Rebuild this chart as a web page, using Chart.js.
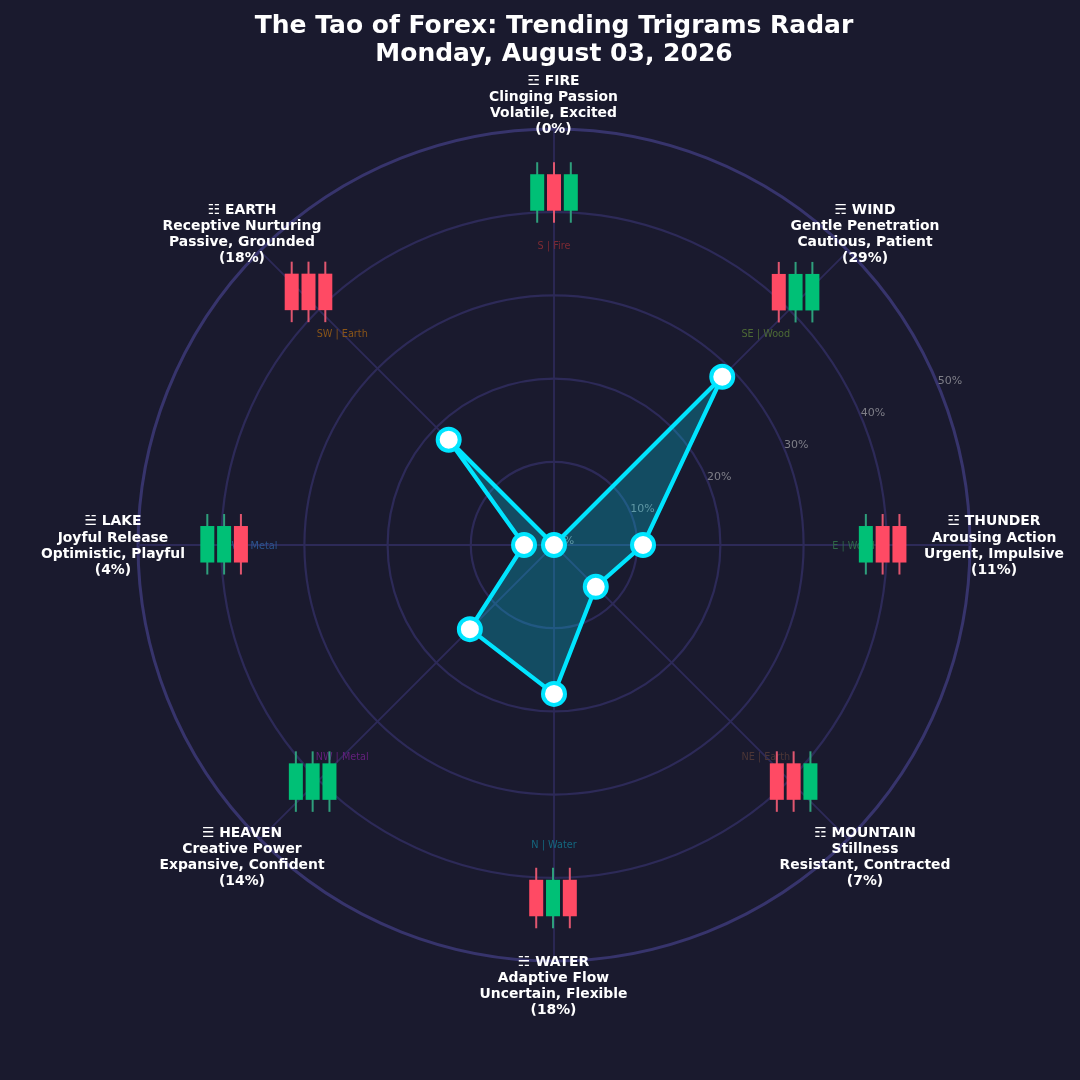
<!DOCTYPE html>
<html>
<head>
<meta charset="utf-8">
<style>
html,body{margin:0;padding:0;background:#1a1a2e;}
canvas{display:block;}
</style>
<script src="https://cdn.jsdelivr.net/npm/chart.js@4"></script>
</head>
<body>
<canvas id="c" width="1080" height="1080"></canvas>
<script>
const titleLines = ['The Tao of Forex: Trending Trigrams Radar', 'Monday, August 03, 2026'];
const trigrams = ['☲ FIRE', '☴ WIND', '☳ THUNDER', '☶ MOUNTAIN', '☵ WATER', '☰ HEAVEN', '☱ LAKE', '☷ EARTH'];
const qualities = ['Clinging Passion', 'Gentle Penetration', 'Arousing Action', 'Stillness', 'Adaptive Flow', 'Creative Power', 'Joyful Release', 'Receptive Nurturing'];
const moods = ['Volatile, Excited', 'Cautious, Patient', 'Urgent, Impulsive', 'Resistant, Contracted', 'Uncertain, Flexible', 'Expansive, Confident', 'Optimistic, Playful', 'Passive, Grounded'];
const percentLabels = ['0%', '29%', '11%', '7%', '18%', '14%', '4%', '18%'];
const values = [0, 28.6, 10.7, 7.1, 17.9, 14.3, 3.6, 17.9];
const tickValues = [0, 10, 20, 30, 40, 50];
const elements = ['S | Fire', 'SE | Wood', 'E | Wood', 'NE | Earth', 'N | Water', 'NW | Metal', 'W | Metal', 'SW | Earth'];
const candleTrends = [
  ['up', 'down', 'up'],
  ['down', 'up', 'up'],
  ['up', 'down', 'down'],
  ['down', 'down', 'up'],
  ['down', 'up', 'down'],
  ['up', 'up', 'up'],
  ['up', 'up', 'down'],
  ['down', 'down', 'down']
];

/* Layout, in scale units and degrees around each spoke */
const candleRing = [42.4, 42.05, 39.5, 40.45, 42.4, 40.6, 39.65, 42.4];
const candleTurn = [0, -1.33, -0.17, -0.4, 0.16, 0.6, 0.17, 0.9];
const elementRing = 36;
const nameRing = 52.95;
const tickTurn = 67.5;
const tickGap = 12.5;
const textDrop = 1;
const textShift = -0.5;

const elementColors = ['#7c2a33', '#4d6a35', '#2f6a48', '#4c3636', '#14677f', '#63207c', '#2b558f', '#8a5518'];
const upColor = '#00c076', downColor = '#ff4a64';
const upWick = '#2f9f7c', downWick = '#e0566f';

const decorations = {
  id: 'decorations',
  beforeDatasetsDraw(chart) {
    const s = chart.scales.r, ctx = chart.ctx;
    const rad = d => d * Math.PI / 180;
    ctx.save();
    ctx.textAlign = 'center';
    ctx.textBaseline = 'middle';

    ctx.font = '11px "DejaVu Sans"';
    ctx.fillStyle = '#7f7f88';
    tickValues.forEach(v => {
      const p = s.getPointPosition(0, s.getDistanceFromCenterForValue(v) + tickGap, rad(tickTurn));
      ctx.fillText(v + '%', p.x, p.y + textDrop - 0.5);
    });

    ctx.font = '9.7px "DejaVu Sans"';
    elements.forEach((t, i) => {
      const p = s.getPointPosition(i, s.getDistanceFromCenterForValue(elementRing));
      ctx.fillStyle = elementColors[i];
      ctx.fillText(t, p.x, p.y + textDrop);
    });

    candleTrends.forEach((group, i) => {
      const p = s.getPointPosition(i, s.getDistanceFromCenterForValue(candleRing[i]), rad(candleTurn[i]));
      group.forEach((trend, k) => {
        const x = p.x + (k - 1) * 16.8;
        ctx.fillStyle = trend === 'up' ? upWick : downWick;
        ctx.fillRect(x - 1, p.y - 30, 2, 60.5);
        ctx.fillStyle = trend === 'up' ? upColor : downColor;
        ctx.fillRect(x - 7, p.y - 18, 14, 36.5);
      });
    });

    ctx.font = 'bold 13.9px "DejaVu Sans"';
    ctx.fillStyle = '#ffffff';
    trigrams.forEach((t, i) => {
      const p = s.getPointPosition(i, s.getDistanceFromCenterForValue(nameRing));
      [t, qualities[i], moods[i], '(' + percentLabels[i] + ')'].forEach((line, k) => {
        ctx.fillText(line, p.x + textShift, p.y + textDrop + (k - 1.5) * 16.2);
      });
    });
    ctx.restore();
  }
};

new Chart(document.getElementById('c'), {
  type: 'radar',
  data: {
    labels: trigrams,
    datasets: [{
      data: values,
      borderColor: '#00e5ff',
      backgroundColor: 'rgba(0,229,255,0.25)',
      borderWidth: 4.2,
      fill: true,
      tension: 0,
      pointRadius: 11,
      pointHoverRadius: 11,
      pointBackgroundColor: '#ffffff',
      pointBorderColor: '#00e5ff',
      pointBorderWidth: 4
    }]
  },
  options: {
    responsive: false,
    devicePixelRatio: 1,
    animation: false,
    layout: { padding: { left: 138, right: 110, top: 0, bottom: 119 } },
    plugins: {
      legend: { display: false },
      tooltip: { enabled: false },
      title: {
        display: true,
        fullSize: false,
        text: titleLines,
        color: '#ffffff',
        font: { family: '"DejaVu Sans"', size: 25, weight: 'bold', lineHeight: 1.12 },
        padding: { top: 12, bottom: 61 }
      }
    },
    scales: {
      r: {
        min: 0,
        max: 50,
        afterBuildTicks: a => { a.ticks = tickValues.map(v => ({ value: v })); },
        ticks: { display: false },
        pointLabels: { display: false },
        angleLines: { color: '#2d2a58', lineWidth: 1.8 },
        grid: {
          circular: true,
          color: c => c.tick.value === 50 ? '#37346c' : '#2d2a58',
          lineWidth: c => c.tick.value === 50 ? 3 : 2.2
        }
      }
    }
  },
  plugins: [decorations]
});
</script>
</body>
</html>
